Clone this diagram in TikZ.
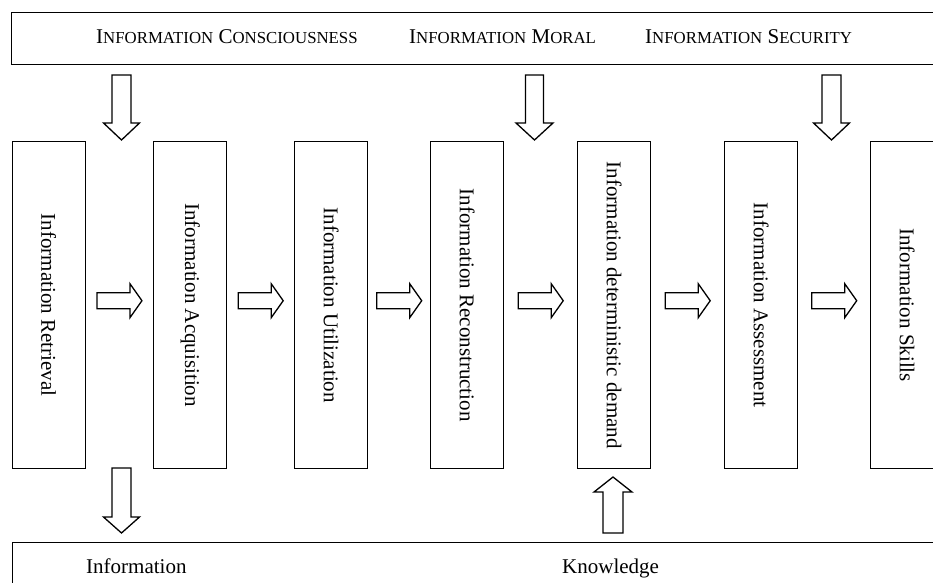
\documentclass[tikz,border=0pt]{standalone}
\usepackage{fontspec}
\setmainfont{Liberation Serif}
\usepackage{graphicx}
\usetikzlibrary{calc}
\newcommand\SmC[2]{#1{\fontsize{16.8}{20}\selectfont #2}}
\newcommand\rblk[2]{\draw[blk] ($(#1.east)!0.5!(#2.west)+(-22.5,-12.5)$) -- ++(33,0) -- ++(0,-9) -- ++(12,17) -- ++(-12,17) -- ++(0,-9) -- ++(-33,0) -- cycle;}
\newcommand\downblk[6]{\draw[blk] ({#1-#4},#2) -- ({#1+#4},#2) -- ({#1+#4},{#3-#6}) -- ({#1+#5},{#3-#6}) -- (#1,#3) -- ({#1-#5},{#3-#6}) -- ({#1-#4},{#3-#6}) -- cycle;}
\newcommand\upblk[6]{\draw[blk] ({#1-#4},#2) -- ({#1+#4},#2) -- ({#1+#4},{#3+#6}) -- ({#1+#5},{#3+#6}) -- (#1,#3) -- ({#1-#5},{#3+#6}) -- ({#1-#4},{#3+#6}) -- cycle;}
\begin{document}
\begin{tikzpicture}[x=1pt,y=-1pt,
  box/.style={draw,line width=1.4pt,minimum width=73pt,minimum height=327pt,anchor=north west,inner sep=0pt,font=\fontsize{21}{25}\selectfont},
  bar/.style={draw,line width=1.4pt,anchor=north west,inner sep=0pt},
  lbl/.style={anchor=base west,inner sep=0pt,font=\fontsize{21}{25}\selectfont},
  blk/.style={draw,line width=1.3pt,line join=miter}]
\clip (0,0) rectangle (933,582);
\fill[white] (0,0) rectangle (933,582);
% bars
\node[bar,minimum width=940pt,minimum height=52pt] (topbar) at (11,12) {};
\node[bar,minimum width=940pt,minimum height=60pt] (botbar) at (12,542) {};
\node[lbl] (t1) at (96,43) {\SmC{I}{NFORMATION} \SmC{C}{ONSCIOUSNESS}};
\node[lbl] (t2) at (409,43) {\SmC{I}{NFORMATION} \SmC{M}{ORAL}};
\node[lbl] (t3) at (645,43) {\SmC{I}{NFORMATION} \SmC{S}{ECURITY}};
\node[lbl] (k1) at (86,573) {Information};
\node[lbl] (k2) at (562,573) {Knowledge};
% boxes
\node[box] (b1) at (11.5,141) {\rotatebox{-90}{Information Retrieval}};
\node[box] (b2) at (153,141) {\rotatebox{-90}{Information Acquisition}};
\node[box] (b3) at (294,141) {\rotatebox{-90}{Information Utilization}};
\node[box] (b4) at (430,141) {\rotatebox{-90}{Information Reconstruction}};
\node[box] (b5) at (577,141) {\rotatebox{-90}{Information deterministic demand}};
\node[box] (b6) at (724,141) {\rotatebox{-90}{Information Assessment}};
\node[box] (b7) at (870,141) {\rotatebox{-90}{Information Skills}};
% horizontal block arrows
\rblk{b1}{b2}
\rblk{b2}{b3}
\rblk{b3}{b4}
\rblk{b4}{b5}
\rblk{b5}{b6}
\rblk{b6}{b7}
% vertical block arrows
\downblk{121.5}{75}{140}{9.5}{18}{17}
\downblk{534.5}{75}{140}{9}{18.5}{17}
\downblk{831.5}{75}{140}{9.5}{18}{17}
\downblk{121.5}{468}{533}{9.5}{18}{16}
\upblk{613}{533}{477}{10}{19}{15}
\end{tikzpicture}
\end{document}
